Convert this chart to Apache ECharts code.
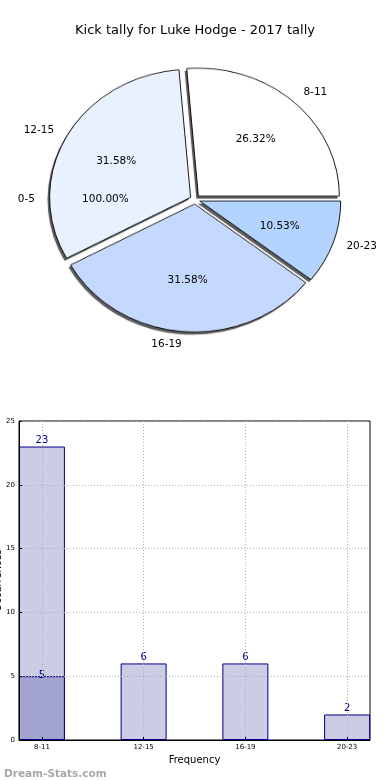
<!DOCTYPE html>
<html>
<head>
<meta charset="utf-8">
<script src="https://cdn.jsdelivr.net/npm/echarts@6/dist/echarts.min.js"></script>
<style>
html,body{margin:0;padding:0;background:#fff;}
#wrap{position:relative;width:390px;height:780px;}
#pie{position:absolute;left:0;top:0;width:390px;height:400px;z-index:0;transform-origin:195px 199.5px;}
#chart{position:absolute;left:0;top:0;width:390px;height:780px;z-index:1;}
</style>
</head>
<body>
<div id="wrap"><div id="pie"></div><div id="chart"></div></div>
<script>
// ---- data ----
const titleText = 'Kick tally for Luke Hodge - 2017 tally';
const categories = ['8-11', '12-15', '16-19', '20-23'];
const pieValues = [5, 6, 6, 2];
const pieExtraNames = ['0-5'];
const pieExtraValues = [1];
const barValues = [23, 6, 6, 2];
const barOverlayValues = [5, null, null, null];
const xTickIndex = [0, 1, 2, 3];
const xAxisName = 'Frequency';
const yAxisName = 'Occurrences';
const watermark = 'Dream-Stats.com';

// ---- styles / geometry ----
const FONT = 'DejaVu Sans';
const sliceColors = ['#ffffff', '#eaf1fe', '#c5d9fe', '#b3d4fe'];
const CX = 195, CY = 199.5;
const RX = 141, RY = 128;          // elliptical pie (matplotlib non-equal aspect)
const K = RY / RX;
const EXPLODE = 5;
const SHADOW_DX = -2, SHADOW_DY = 2.5;
const PCT_DIST = 0.6, LABEL_DIST = 1.1;
const LABEL_SIZE = 10.5;

document.getElementById('pie').style.transform = 'scaleY(' + K + ')';

// label anchor on the ellipse for each slice (angles derived from the data)
function labelAnchors(values, dist, isName) {
  const total = values.reduce((a, b) => a + b, 0);
  let cum = 0;
  return values.map(v => {
    const mid = (cum + v / 2) / total * 2 * Math.PI;
    cum += v;
    const c = Math.cos(mid), s = Math.sin(mid);
    let align = 'center';
    if (isName && Math.abs(c) > 1e-6) align = c > 0 ? 'left' : 'right';
    return {
      x: CX + dist * RX * c + EXPLODE * c,
      y: CY - dist * RY * s - EXPLODE * K * s,
      align: align
    };
  });
}

const transparent = { color: 'rgba(0,0,0,0)', borderWidth: 0 };
function labelSeries(names, values, dist, isName) {
  const total = values.reduce((a, b) => a + b, 0);
  const anchors = labelAnchors(values, dist, isName);
  return {
    type: 'pie', center: [CX, CY], radius: [0, RX], startAngle: 0, clockwise: false, silent: true,
    label: {
      show: true, position: 'inner', fontFamily: FONT, fontSize: LABEL_SIZE, color: '#000',
      formatter: p => isName ? p.name : (p.value / total * 100).toFixed(2) + '%'
    },
    labelLine: { show: false }, itemStyle: transparent,
    labelLayout: p => {
      const a = anchors[p.dataIndex];
      return { x: a.x, y: a.y, align: a.align, verticalAlign: 'middle' };
    },
    data: names.map((n, i) => ({ name: n, value: values[i] })), z: 3
  };
}

// ---- pie wedges (scaled into an ellipse) ----
const wedgeBase = {
  type: 'pie', radius: [0, RX], startAngle: 0, clockwise: false,
  selectedMode: 'multiple', selectedOffset: EXPLODE, silent: true,
  label: { show: false }, labelLine: { show: false }, emphasis: { disabled: true }
};
const pieChart = echarts.init(document.getElementById('pie'), null, { renderer: 'canvas' });
pieChart.setOption({
  animation: false,
  backgroundColor: 'transparent',
  series: [
    Object.assign({}, wedgeBase, {
      center: [CX + SHADOW_DX, CY + SHADOW_DY / K], z: 1,
      itemStyle: { color: 'rgba(60,60,60,0.75)', borderWidth: 0, shadowColor: 'rgba(0,0,0,0.4)', shadowBlur: 1.5 },
      data: categories.map((c, i) => ({ name: c, value: pieValues[i], selected: true }))
    }),
    Object.assign({}, wedgeBase, {
      center: [CX, CY], z: 2,
      itemStyle: { borderColor: '#000', borderWidth: 0.9 },
      data: categories.map((c, i) => ({ name: c, value: pieValues[i], selected: true, itemStyle: { color: sliceColors[i] } }))
    })
  ]
});

// ---- main chart: title, pie labels, bar chart ----
const chart = echarts.init(document.getElementById('chart'), null, { renderer: 'canvas' });
chart.setOption({
  animation: false,
  backgroundColor: 'transparent',
  title: [
    { text: titleText, left: 'center', top: 19,
      textStyle: { fontFamily: FONT, fontSize: 13, fontWeight: 'normal', color: '#000' } },
    { text: watermark, left: -1, top: 764,
      textStyle: { fontFamily: FONT, fontSize: 10.5, fontWeight: 'bold', color: '#a8a8a8' } }
  ],
  grid: { left: 19, right: 20, top: 421, bottom: 40, show: true, borderColor: '#000', borderWidth: 1,
          containLabel: false, outerBoundsMode: 'none' },
  xAxis: {
    type: 'value', min: -0.225, max: 3.225, z: 5,
    name: xAxisName, nameLocation: 'middle', nameGap: 15,
    nameTextStyle: { fontFamily: FONT, fontSize: 10, color: '#000' },
    axisLine: { onZero: false, lineStyle: { color: '#000' } },
    axisTick: { show: true, inside: true, length: 3, customValues: xTickIndex, lineStyle: { color: '#000' } },
    axisLabel: { customValues: xTickIndex, formatter: v => categories[v], fontFamily: FONT, fontSize: 7, color: '#000', margin: 4 },
    splitLine: { show: true, lineStyle: { color: '#b0b0b0', type: [1, 2], width: 1 } }
  },
  yAxis: {
    type: 'value', min: 0, max: 25, interval: 5, z: 5,
    name: yAxisName, nameLocation: 'middle', nameGap: 16, nameRotate: 90, nameMoveOverlap: false,
    nameTextStyle: { fontFamily: FONT, fontSize: 10, color: '#000' },
    axisLine: { onZero: false, lineStyle: { color: '#000' } },
    axisTick: { show: true, inside: true, length: 3, lineStyle: { color: '#000' } },
    axisLabel: { fontFamily: FONT, fontSize: 7, color: '#000', margin: 4 },
    splitLine: { show: true, lineStyle: { color: '#b0b0b0', type: [1, 2], width: 1 } }
  },
  series: [
    labelSeries(categories, pieValues, PCT_DIST, false),
    labelSeries(categories, pieValues, LABEL_DIST, true),
    labelSeries(pieExtraNames, pieExtraValues, PCT_DIST, false),
    labelSeries(pieExtraNames, pieExtraValues, LABEL_DIST, true),
    {
      type: 'bar', barWidth: 46, barGap: '-100%',
      data: barValues.map((v, i) => [i, v]),
      itemStyle: { color: '#cccce5', borderColor: '#00008b', borderWidth: 1 },
      label: { show: true, position: 'top', distance: 1, fontFamily: FONT, fontSize: 10, color: '#00008b' },
      z: 2
    },
    {
      type: 'bar', barWidth: 46, barGap: '-100%',
      data: barOverlayValues.map((v, i) => [i, v]),
      itemStyle: { color: '#a3a3d0', borderColor: '#00008b', borderWidth: 1 },
      label: { show: true, position: 'top', distance: -4, fontFamily: FONT, fontSize: 10, color: '#00008b' },
      z: 3
    }
  ]
});
</script>
</body>
</html>
